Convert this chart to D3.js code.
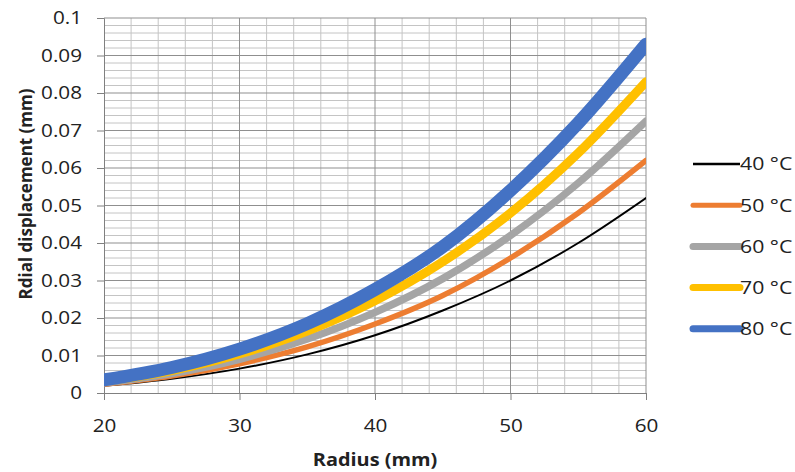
<!DOCTYPE html>
<html lang="en">
<head>
<meta charset="UTF-8" />
<title>Radial displacement</title>
<script src="https://cdn.jsdelivr.net/npm/d3@7"></script>
<style>
  body { margin: 0; background: #fff; }
  svg text { font-family: "Open Sans", "Liberation Sans", sans-serif; fill: #222; }
</style>
</head>
<body>
<script>
  // data
  var radius = [20, 25, 30, 35, 40, 45, 50, 55, 60];
  var seriesNames = ["40 \u00B0C", "50 \u00B0C", "60 \u00B0C", "70 \u00B0C", "80 \u00B0C"];
  var t40 = [0.0019, 0.0038, 0.0065, 0.0103, 0.0154, 0.022, 0.030, 0.040, 0.052];
  var t50 = [0.0023, 0.0045, 0.0078, 0.0123, 0.0184, 0.026, 0.036, 0.048, 0.062];
  var t60 = [0.0027, 0.0052, 0.0090, 0.0144, 0.0215, 0.0305, 0.042, 0.056, 0.0725];
  var t70 = [0.0031, 0.0060, 0.0104, 0.0165, 0.0246, 0.035, 0.048, 0.064, 0.083];
  var t80 = [0.0035, 0.0068, 0.0117, 0.0185, 0.0276, 0.039, 0.054, 0.072, 0.093];
  var xTicks = [20, 30, 40, 50, 60];
  var yTicks = [0, 0.01, 0.02, 0.03, 0.04, 0.05, 0.06, 0.07, 0.08, 0.09, 0.1];

  var allSeries = [t40, t50, t60, t70, t80];
  var colors = ["#000000", "#ED7D31", "#A5A5A5", "#FFC000", "#4472C4"];
  var widths = [2, 5.5, 7.5, 9, 13];
  var legendWidths = [2.5, 5, 7, 7, 7];

  var w = 795, h = 472;
  var margin = { top: 18, right: 150, bottom: 79, left: 104 };
  var stretch = 1.15; // the reference text is a bit wide

  var svg = d3.select("body").append("svg")
    .attr("width", w)
    .attr("height", h);

  var xScale = d3.scaleLinear()
    .domain([20, 60])
    .range([margin.left, w - margin.right + 1]);

  var yScale = d3.scaleLinear()
    .domain([0, 0.1])
    .range([h - margin.bottom, margin.top]);

  // minor grid
  var g = svg.append("g");
  g.selectAll(".vminor")
    .data(d3.range(22, 60, 2).filter(function(d) { return d % 10 != 0; }))
    .enter().append("line")
    .attr("x1", function(d) { return xScale(d); })
    .attr("x2", function(d) { return xScale(d); })
    .attr("y1", yScale(0)).attr("y2", yScale(0.1))
    .attr("stroke", "#c4c4c4").attr("stroke-width", 1);

  g.selectAll(".hminor")
    .data(d3.range(1, 50).filter(function(i) { return i % 5 != 0; }).map(function(i) { return i * 0.002; }))
    .enter().append("line")
    .attr("x1", xScale(20)).attr("x2", xScale(60))
    .attr("y1", function(d) { return yScale(d); })
    .attr("y2", function(d) { return yScale(d); })
    .attr("stroke", "#c4c4c4").attr("stroke-width", 1);

  // major grid
  g.selectAll(".vmajor")
    .data(xTicks.slice(1))
    .enter().append("line")
    .attr("x1", function(d) { return xScale(d); })
    .attr("x2", function(d) { return xScale(d); })
    .attr("y1", yScale(0)).attr("y2", yScale(0.1))
    .attr("stroke", "#8f8f8f").attr("stroke-width", 1);

  g.selectAll(".hmajor")
    .data(yTicks.slice(1))
    .enter().append("line")
    .attr("x1", xScale(20)).attr("x2", xScale(60))
    .attr("y1", function(d) { return yScale(d); })
    .attr("y2", function(d) { return yScale(d); })
    .attr("stroke", "#8f8f8f").attr("stroke-width", 1);

  // axes
  var xAxis = d3.axisBottom(xScale)
    .tickValues(xTicks)
    .tickSize(7)
    .tickFormat(d3.format("d"));

  var yAxis = d3.axisLeft(yScale)
    .tickValues(yTicks)
    .tickSize(7)
    .tickFormat(function(d) { return d === 0 ? "0" : d3.format("")(+d.toFixed(2)); });

  var gx = svg.append("g")
    .attr("transform", "translate(0," + yScale(0) + ")")
    .call(xAxis);
  var gy = svg.append("g")
    .attr("transform", "translate(" + xScale(20) + ",0)")
    .call(yAxis);

  [gx, gy].forEach(function(ax) {
    ax.select(".domain").attr("stroke", "#808080");
    ax.selectAll(".tick line").attr("stroke", "#808080");
    ax.selectAll("text")
      .style("font-size", "18px")
      .style("font-family", "'Open Sans', sans-serif")
      .attr("fill", "#222")
      .attr("transform", "scale(" + stretch + ",1)");
  });
  gx.selectAll("text").attr("y", 39).attr("dy", null);
  gy.selectAll("text").attr("x", -22 / stretch);

  // lines, clipped to the plot's x range
  svg.append("clipPath").attr("id", "plotclip")
    .append("rect")
    .attr("x", xScale(20)).attr("y", 0)
    .attr("width", xScale(60) - xScale(20)).attr("height", h);

  var line = d3.line()
    .x(function(d, i) { return xScale(radius[i]); })
    .y(function(d) { return yScale(d); })
    .curve(d3.curveMonotoneX);

  svg.append("g").attr("clip-path", "url(#plotclip)")
    .selectAll(".series")
    .data(allSeries)
    .enter().append("path")
    .attr("d", line)
    .attr("fill", "none")
    .attr("stroke", function(d, i) { return colors[i]; })
    .attr("stroke-width", function(d, i) { return widths[i]; })
    .attr("stroke-linecap", "round");

  // axis titles
  svg.append("text")
    .attr("transform", "translate(" + ((xScale(20) + xScale(60)) / 2) + ",466) scale(1.17,1)")
    .attr("text-anchor", "middle")
    .style("font-size", "17px")
    .style("font-weight", "bold")
    .text("Radius (mm)");

  svg.append("text")
    .attr("transform", "translate(32,194) rotate(-90)")
    .attr("text-anchor", "middle")
    .style("font-size", "17px")
    .style("font-weight", "bold")
    .text("Rdial displacement (mm)");

  // legend
  var legend = svg.selectAll(".legend")
    .data(seriesNames)
    .enter().append("g")
    .attr("transform", function(d, i) { return "translate(693," + (164 + i * 41.2) + ")"; });

  legend.append("line")
    .attr("x1", 0).attr("x2", 47)
    .attr("stroke", function(d, i) { return colors[i]; })
    .attr("stroke-width", function(d, i) { return legendWidths[i]; })
    .attr("stroke-linecap", function(d, i) { return i == 0 ? "butt" : "round"; });

  legend.append("text")
    .attr("transform", "translate(47,0) scale(" + stretch + ",1)")
    .attr("dy", "0.35em")
    .style("font-size", "18.5px")
    .text(function(d) { return d; });
</script>
</body>
</html>
